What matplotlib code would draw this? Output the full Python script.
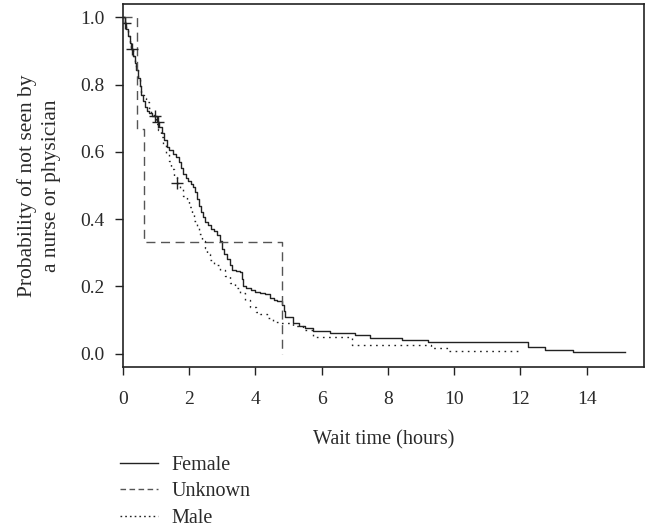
import numpy as np
import matplotlib
matplotlib.use("Agg")
import matplotlib.pyplot as plt
from matplotlib.lines import Line2D

plt.rcParams['font.family'] = ['Liberation Serif', 'DejaVu Serif']

# Kaplan-Meier estimates of waiting to be seen, by gender
female_t = [0, 0.05, 0.10, 0.15, 0.20, 0.25, 0.30, 0.35, 0.40, 0.45, 0.50, 0.55,
            0.60, 0.65, 0.72, 0.80, 0.88, 1.02, 1.10, 1.18, 1.25, 1.32, 1.40,
            1.50, 1.60, 1.68, 1.75, 1.82, 1.90, 1.97, 2.05, 2.12, 2.18, 2.24,
            2.30, 2.36, 2.42, 2.48, 2.56, 2.65, 2.75, 2.85, 2.93, 2.98, 3.05,
            3.13, 3.22, 3.30, 3.42, 3.53, 3.58, 3.63, 3.72, 3.85, 3.98, 4.15,
            4.28, 4.43, 4.55, 4.64, 4.79, 4.86, 4.89, 5.14, 5.30, 5.49, 5.74,
            6.24, 6.99, 7.45, 8.41, 9.21, 12.23, 12.73, 13.60, 15.15]
female_s = [1.0, 0.985, 0.965, 0.945, 0.925, 0.905, 0.885, 0.865, 0.845, 0.820,
            0.795, 0.770, 0.750, 0.735, 0.722, 0.715, 0.708, 0.688, 0.675,
            0.655, 0.635, 0.615, 0.605, 0.595, 0.586, 0.570, 0.552, 0.535,
            0.522, 0.514, 0.505, 0.495, 0.480, 0.460, 0.440, 0.420, 0.405,
            0.392, 0.382, 0.372, 0.366, 0.352, 0.335, 0.310, 0.295, 0.280,
            0.265, 0.250, 0.246, 0.242, 0.222, 0.200, 0.196, 0.190, 0.183,
            0.181, 0.178, 0.165, 0.160, 0.155, 0.145, 0.128, 0.110, 0.090,
            0.083, 0.076, 0.068, 0.061, 0.054, 0.046, 0.041, 0.033, 0.020,
            0.011, 0.006, 0.006]
female_cens = [0.05, 0.26, 0.97, 1.07]

male_t = [0, 0.05, 0.10, 0.15, 0.20, 0.25, 0.30, 0.35, 0.40, 0.45, 0.50, 0.55,
          0.62, 0.70, 0.78, 0.86, 0.93, 1.00, 1.07, 1.14, 1.22, 1.30, 1.38,
          1.46, 1.55, 1.64, 1.72, 1.82, 1.92, 2.00, 2.08, 2.15, 2.22, 2.30,
          2.38, 2.47, 2.55, 2.62, 2.75, 2.93, 3.08, 3.23, 3.38, 3.53, 3.68,
          3.83, 4.03, 4.13, 4.34, 4.53, 4.74, 5.14, 5.44, 5.74, 6.90, 9.31,
          9.80, 11.92]
male_s = [1.0, 0.985, 0.965, 0.945, 0.925, 0.905, 0.885, 0.865, 0.845, 0.820,
          0.795, 0.770, 0.760, 0.748, 0.730, 0.715, 0.700, 0.683, 0.665,
          0.645, 0.620, 0.595, 0.572, 0.550, 0.525, 0.507, 0.490, 0.470,
          0.455, 0.435, 0.415, 0.395, 0.378, 0.355, 0.335, 0.313, 0.295,
          0.279, 0.265, 0.249, 0.230, 0.210, 0.195, 0.180, 0.160, 0.140,
          0.125, 0.118, 0.105, 0.095, 0.092, 0.081, 0.071, 0.048, 0.025,
          0.016, 0.007, 0.007]
male_cens = [1.64]

unknown_t = [0, 0.41, 0.64, 4.79]
unknown_s = [1.0, 0.667, 0.333, 0.0]


def surv_at(times, surv, t):
    # value of a right-continuous step function at time t
    idx = np.searchsorted(times, t, side='right') - 1
    return np.asarray(surv)[idx]


fig = plt.figure(figsize=(6.48, 5.29), dpi=100)
ax = fig.add_axes([0.1898, 0.3062, 0.804, 0.6862])

ink = '#222222'
txt = '#2a2a2a'
ax.step(female_t, female_s, where='post', color=ink, lw=1.0, label='Female')
ax.step(unknown_t, unknown_s, where='post', color='#555555', lw=1.0,
        linestyle=(0, (6.5, 4)), label='Unknown')
ax.step(male_t, male_s, where='post', color=ink, lw=1.0,
        linestyle=(0, (1.2, 3.2)), label='Male')

ax.plot(female_cens, surv_at(female_t, female_s, female_cens), '+',
        color=ink, ms=9, mew=1.0)
ax.plot(male_cens, surv_at(male_t, male_s, male_cens), '+',
        color=ink, ms=9, mew=1.0)

ax.set_xlim(0, 15.73)
ax.set_ylim(-0.04, 1.04)
ax.set_xticks(np.arange(0, 15, 2))
ax.set_yticks([0.0, 0.2, 0.4, 0.6, 0.8, 1.0])
ax.set_yticklabels(['0.0', '0.2', '0.4', '0.6', '0.8', '1.0'])
ax.tick_params(direction='out', length=6, width=1.0, colors=ink,
               labelsize=14, labelcolor=txt)
ax.tick_params(axis='x', pad=11)
ax.tick_params(axis='y', pad=7)
for sp in ax.spines.values():
    sp.set_linewidth(1.2)
    sp.set_color(ink)

ax.set_xlabel('Wait time (hours)', fontsize=14.5, color=txt, labelpad=16)
ax.set_ylabel('Probability of not seen by\na nurse or physician',
              fontsize=15.5, color=txt, labelpad=14, linespacing=1.4)

handles = [
    Line2D([], [], color=ink, lw=1.0),
    Line2D([], [], color='#555555', lw=1.0, linestyle=(0, (4, 2.5))),
    Line2D([], [], color=ink, lw=1.0, linestyle=(0, (1.2, 2.2))),
]
fig.legend(handles, ['Female', 'Unknown', 'Male'], loc='upper left',
           bbox_to_anchor=(0.17, 0.158), frameon=False, fontsize=14.5,
           handlelength=1.9, handletextpad=0.65, labelspacing=0.38,
           borderpad=0, labelcolor=txt)

fig.savefig('out.png', dpi=100)
